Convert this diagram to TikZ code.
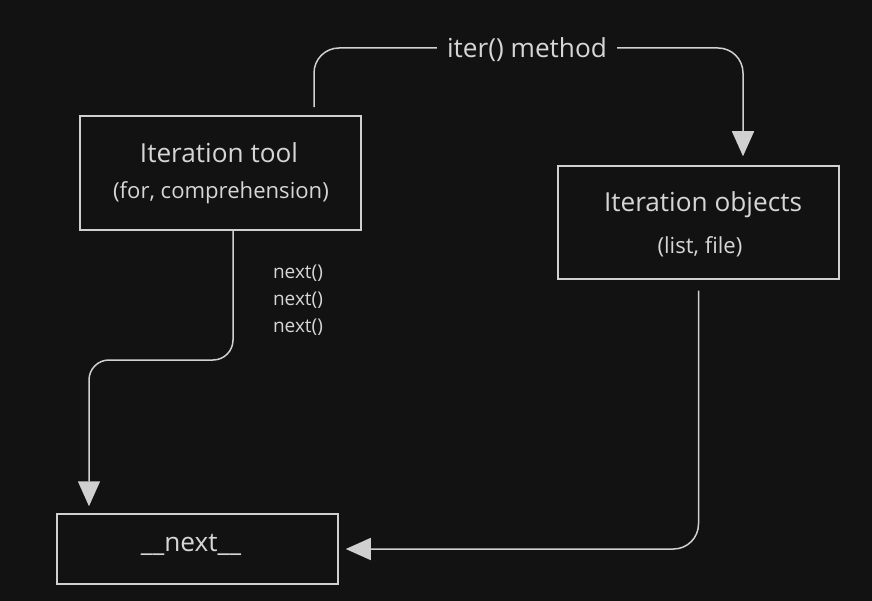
\documentclass[tikz,border=0pt]{standalone}
\usepackage{fontspec}
\setmainfont{Open Sans}
\usetikzlibrary{arrows.meta}
\definecolor{bg}{HTML}{121212}
\definecolor{ink}{HTML}{D0D0D0}
\definecolor{txt}{HTML}{D6D6D6}
\tikzset{
  box/.style={draw=ink, line width=1.5pt, fill=bg, minimum width=281pt, inner sep=0pt},
  big/.style={text=txt, font=\fontsize{26.2}{30}\selectfont, inner sep=0pt},
  mid/.style={text=txt, font=\fontsize{22.1}{26}\selectfont, inner sep=0pt},
  small/.style={text=txt, font=\fontsize{19}{22}\selectfont, inner sep=0pt},
  conn/.style={draw=ink, line width=1.5pt},
  tip/.style={-{Triangle[length=25pt,width=22pt]}}
}
\begin{document}
\begin{tikzpicture}[x=1pt,y=-1pt]
\useasboundingbox[fill=bg] (0,0) rectangle (872,601);
% boxes
\node[box, minimum height=114pt] (tool) at (220.5,173) {};
\node[box, minimum height=113pt] (objs) at (698.5,222.5) {};
\node[box, minimum height=70pt] (nxt) at (197.5,549) {};
% texts
\node[big] (t1) at (219,153) {Iteration tool};
\node[mid] (t2) at (221,193) {(for, comprehension)};
\node[big] (o1) at (703,205) {Iteration objects};
\node[mid] (o2) at (700,247) {(list, file)};
\node[big] (n1) at (191,545) {\_\_next\_\_};
\node[big, inner xsep=10pt] (lbl) at (527,50) {iter() method};
\node[small] (s1) at (298,273) {next()};
\node[small] (s2) at (298,300) {next()};
\node[small] (s3) at (298,327) {next()};
% connectors
\coordinate (a0) at ([xshift=93.5pt,yshift=8pt]tool.north);
\coordinate (a1) at ([xshift=44.5pt,yshift=9pt]objs.north);
\draw[conn, rounded corners=25pt] (a0) |- ([yshift=2pt]lbl.west);
\draw[conn, rounded corners=25pt, tip] ([yshift=2pt]lbl.east) -| (a1);
\coordinate (b0) at ([xshift=12.5pt]tool.south);
\coordinate (b1) at ([xshift=-108.5pt,yshift=7pt]nxt.north);
\coordinate (bm) at (160,360);
\draw[conn, rounded corners=20pt, tip] (b0) |- (bm) -| (b1);
\coordinate (c0) at ([yshift=-11pt]objs.south);
\coordinate (c1) at ([xshift=7pt]nxt.east);
\draw[conn, rounded corners=25pt, tip] (c0) |- (c1);
\end{tikzpicture}
\end{document}
